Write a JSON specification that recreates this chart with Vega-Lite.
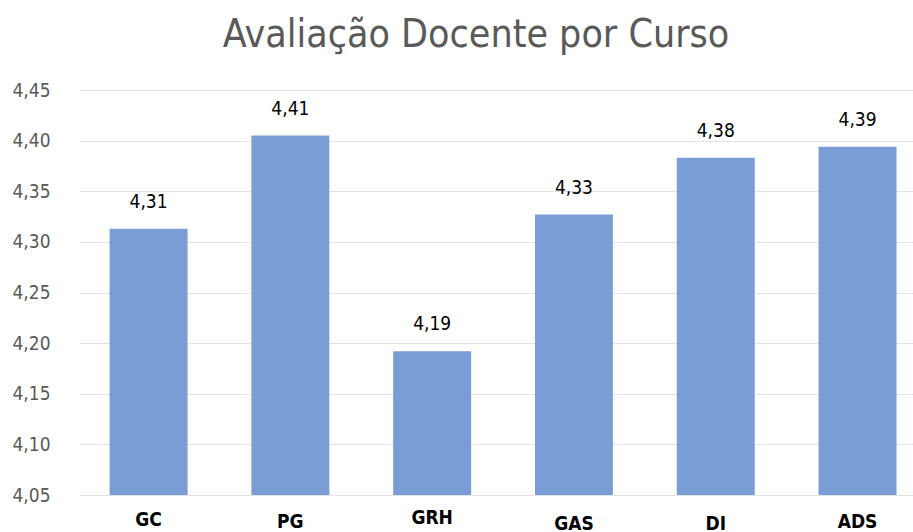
{
  "$schema": "https://vega.github.io/schema/vega-lite/v6.json",
  "autosize": "none",
  "width": 834,
  "height": 405,
  "padding": {"left": 79, "top": 90, "right": 0, "bottom": 37},
  "background": "white",
  "title": {
    "text": "Avaliação Docente por Curso",
    "font": "Liberation Sans Narrow, DejaVu Sans Condensed, sans-serif",
    "fontSize": 39,
    "fontWeight": "normal",
    "color": "#595959",
    "anchor": "middle",
    "frame": "group",
    "dx": -20,
    "offset": 26
  },
  "data": {
    "values": [
      {"curso": "GC", "nota": 4.313},
      {"curso": "PG", "nota": 4.405},
      {"curso": "GRH", "nota": 4.192},
      {"curso": "GAS", "nota": 4.327},
      {"curso": "DI", "nota": 4.383},
      {"curso": "ADS", "nota": 4.394}
    ]
  },
  "encoding": {
    "x": {
      "field": "curso",
      "type": "nominal",
      "sort": null,
      "scale": {"paddingInner": 0.45, "paddingOuter": 0.166, "align": 0.65},
      "axis": {
        "title": null,
        "domain": false,
        "ticks": false,
        "labelAngle": 0,
        "labelFont": "Liberation Sans Narrow, DejaVu Sans Condensed, sans-serif",
        "labelFontSize": 19,
        "labelFontWeight": "bold",
        "labelColor": "#000000",
        "labelPadding": {"condition": [{"test": "datum.value=='GRH'", "value": 13}, {"test": "datum.value=='GAS' || datum.value=='DI'", "value": 19}, {"test": "datum.value=='GC'", "value": 15}], "value": 17}
      }
    },
    "y": {
      "field": "nota",
      "type": "quantitative",
      "scale": {"domain": [4.05, 4.45], "zero": false, "nice": false, "clamp": true},
      "axis": {
        "title": null,
        "domain": false,
        "ticks": false,
        "values": [4.05, 4.1, 4.15, 4.2, 4.25, 4.3, 4.35, 4.4, 4.45],
        "labelExpr": "replace(format(datum.value, '.2f'), '.', ',')",
        "labelFont": "Liberation Sans Narrow, DejaVu Sans Condensed, sans-serif",
        "labelFontSize": 19,
        "labelColor": "#595959",
        "labelPadding": 29,
        "gridColor": "#e3e3e3",
        "gridWidth": 1
      }
    }
  },
  "layer": [
    {"mark": {"type": "bar", "color": "#7b9dd6"}},
    {
      "mark": {
        "type": "text",
        "baseline": "bottom",
        "dy": -17,
        "font": "Liberation Sans Narrow, DejaVu Sans Condensed, sans-serif",
        "fontSize": 19,
        "color": "#000000"
      },
      "encoding": {
        "text": {"field": "nota", "type": "quantitative", "format": ".2f"}
      }
    }
  ],
  "config": {
    "view": {"stroke": null},
    "locale": {"number": {"decimal": ",", "thousands": ".", "grouping": [3], "currency": ["R$", ""]}}
  }
}
